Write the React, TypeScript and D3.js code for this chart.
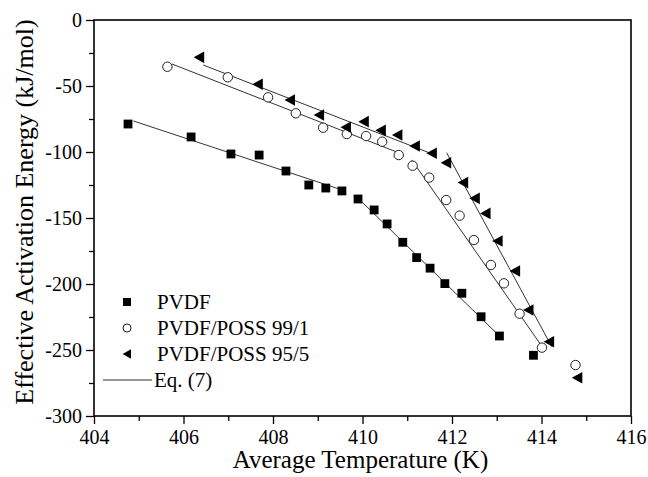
import * as d3 from "d3";
import React, {useEffect, useRef} from "react";

// measured points (average temperature K, effective activation energy kJ/mol)
const pvdf: [number, number][] = [
    [404.76, -78.8], [406.17, -88.6], [407.06, -101.5], [407.69, -102.3], [408.29, -114.4],
    [408.8, -125], [409.18, -127.3], [409.54, -129.5], [409.9, -135.6], [410.26, -143.9],
    [410.55, -154.5], [410.9, -168.4], [411.21, -180], [411.51, -188], [411.84, -199.7],
    [412.22, -207], [412.65, -224.8], [413.06, -239.4], [413.82, -254]
];
const poss991: [number, number][] = [
    [405.64, -35.4], [406.99, -43.4], [407.89, -58.6], [408.51, -70.7], [409.12, -81.6],
    [409.65, -86.4], [410.08, -87.9], [410.44, -92.2], [410.81, -102.3], [411.12, -110.4],
    [411.49, -119.4], [411.87, -136.4], [412.17, -148.2], [412.49, -166.7], [412.87, -185.6],
    [413.16, -199.5], [413.51, -222.5], [414.01, -248.2], [414.76, -261.4]
];
const poss955: [number, number][] = [
    [406.35, -28.3], [407.66, -48.7], [408.38, -60.6], [409.03, -72], [409.63, -81.3],
    [410.03, -77], [410.41, -83.6], [410.78, -87.1], [411.17, -95.5], [411.55, -101],
    [411.87, -108.1], [412.25, -123.2], [412.51, -135.1], [412.75, -146.5], [413.02, -167.4],
    [413.41, -190.2], [413.71, -219.7], [414.17, -243.7], [414.8, -271]
];

// Eq. (7) fitted segments
const fitLines: [number, number][][] = [
    [[404.88, -76.5], [409.61, -129.5]],
    [[409.92, -135.6], [413.06, -239.4]],
    [[405.74, -33.3], [410.84, -101]],
    [[411.1, -106], [414.04, -248.7]],
    [[406.44, -34.1], [411.62, -102.3]],
    [[411.88, -100.5], [414.23, -247.5]]
];

const xTicks = [404, 406, 408, 410, 412, 414, 416];
const yTicks = [-300, -250, -200, -150, -100, -50, 0];
const legendLabels = ["PVDF", "PVDF/POSS 99/1", "PVDF/POSS 95/5", "Eq. (7)"];

const font = "'Liberation Serif', 'Times New Roman', serif";

const App = () => {
    const svgRef = useRef<SVGSVGElement>(null);
    const margin = {top: 20, right: 17, bottom: 61, left: 94};
    const svgWidth = 648;
    const svgHeight = 477;
    const width = svgWidth - margin.left - margin.right;
    const height = svgHeight - margin.top - margin.bottom;

    useEffect(() => {
        const x = d3.scaleLinear().domain([404, 416]).range([0, width]);
        const y = d3.scaleLinear().domain([-300, 0]).range([height, 0]);

        const svgEl = d3.select(svgRef.current);
        svgEl.selectAll("*").remove();

        const svg = svgEl.append("g")
            .attr("transform", `translate(${margin.left},${margin.top})`);

        // minor ticks
        svg.append("g")
            .attr("transform", `translate(0,${height})`)
            .call(d3.axisBottom(x).tickValues(d3.range(405, 416, 2)).tickSize(5).tickFormat(() => ""))
            .call(g => g.select(".domain").remove());
        svg.append("g")
            .call(d3.axisLeft(y).tickValues(d3.range(-275, 0, 50)).tickSize(5).tickFormat(() => ""))
            .call(g => g.select(".domain").remove());

        const xAxis = svg.append("g")
            .attr("transform", `translate(0,${height})`)
            .call(d3.axisBottom(x).tickValues(xTicks).tickSize(8).tickPadding(6).tickFormat(d3.format("d")));
        xAxis.selectAll("text").attr("font-size", 20).attr("font-family", font).attr("fill", "#000");

        const yAxis = svg.append("g")
            .call(d3.axisLeft(y).tickValues(yTicks).tickSize(8).tickPadding(4).tickFormat(d => String(d)));
        yAxis.selectAll("text").attr("font-size", 20).attr("font-family", font).attr("fill", "#000");

        svg.selectAll(".tick line").attr("stroke", "#000").attr("stroke-width", 1.3);
        svg.selectAll(".domain").remove();

        // frame
        svg.append("rect")
            .attr("width", width).attr("height", height)
            .attr("fill", "none").attr("stroke", "#000").attr("stroke-width", 1.6);

        // fitted lines
        const line = d3.line<[number, number]>()
            .x(d => x(d[0]))
            .y(d => y(d[1]));
        svg.selectAll(".fit")
            .data(fitLines)
            .enter()
            .append("path")
            .attr("fill", "none")
            .attr("stroke", "#333")
            .attr("stroke-width", 1)
            .attr("d", d => line(d));

        const tri = "M-5.5,0L5,-5.8L5,5.8Z";

        svg.selectAll(".sq")
            .data(pvdf)
            .enter()
            .append("rect")
            .attr("x", d => x(d[0]) - 4.4).attr("y", d => y(d[1]) - 4.4)
            .attr("width", 8.8).attr("height", 8.8)
            .attr("fill", "#000");

        svg.selectAll(".ci")
            .data(poss991)
            .enter()
            .append("circle")
            .attr("cx", d => x(d[0])).attr("cy", d => y(d[1]))
            .attr("r", 4.7)
            .attr("fill", "#fff").attr("stroke", "#222").attr("stroke-width", 1);

        svg.selectAll(".tr")
            .data(poss955)
            .enter()
            .append("path")
            .attr("transform", d => `translate(${x(d[0])},${y(d[1])})`)
            .attr("d", tri)
            .attr("fill", "#000");

        // legend
        const lg = svgEl.append("g");
        const rowY = [302, 328, 354, 380];
        lg.append("rect").attr("x", 123).attr("y", rowY[0] - 4).attr("width", 8).attr("height", 8).attr("fill", "#000");
        lg.append("circle").attr("cx", 127).attr("cy", rowY[1]).attr("r", 4)
            .attr("fill", "#fff").attr("stroke", "#222").attr("stroke-width", 1);
        lg.append("path").attr("transform", `translate(127,${rowY[2]}) scale(0.8)`).attr("d", tri).attr("fill", "#000");
        lg.append("line").attr("x1", 103).attr("x2", 152).attr("y1", rowY[3]).attr("y2", rowY[3])
            .attr("stroke", "#333").attr("stroke-width", 1);
        lg.selectAll("text")
            .data(legendLabels)
            .enter()
            .append("text")
            .attr("x", (d, i) => i === 3 ? 154 : 157)
            .attr("y", (d, i) => rowY[i] + 7)
            .attr("font-size", 21)
            .attr("font-family", font)
            .text(d => d);

        // axis titles
        svgEl.append("text")
            .attr("x", margin.left + width / 2 - 2)
            .attr("y", 468)
            .attr("text-anchor", "middle")
            .attr("font-size", 25)
            .attr("font-family", font)
            .text("Average Temperature (K)");

        svgEl.append("text")
            .attr("transform", `translate(33,${margin.top + height / 2 - 6}) rotate(-90)`)
            .attr("text-anchor", "middle")
            .attr("font-size", 26)
            .attr("font-family", font)
            .text("Effective Activation Energy (kJ/mol)");
    }, []);

    return (
        <svg ref={svgRef} width={svgWidth} height={svgHeight}
             style={{position: "absolute", left: 0, top: 0, background: "#fff"}}/>
    );
};

export default App;
